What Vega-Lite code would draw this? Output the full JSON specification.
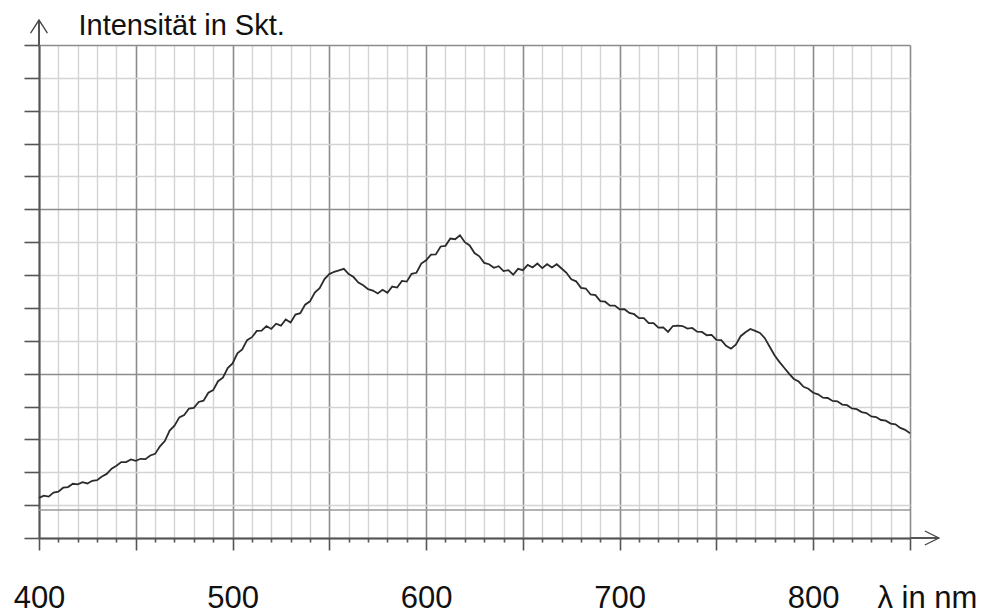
{
  "$schema": "https://vega.github.io/schema/vega-lite/v6.json",
  "width": 871,
  "height": 493,
  "autosize": {"type": "none"},
  "padding": {"left": 39, "top": 45, "right": 79, "bottom": 77},
  "background": "white",
  "config": {"view": {"stroke": null}},
  "layer": [
    {
      "data": {"values": [
        {"nm":400,"intensity":1.22},{"nm":402.5,"intensity":1.29},{"nm":405,"intensity":1.26},{"nm":407.5,"intensity":1.38},{"nm":410,"intensity":1.41},
        {"nm":412.5,"intensity":1.53},{"nm":415,"intensity":1.55},{"nm":417.5,"intensity":1.65},{"nm":420,"intensity":1.63},{"nm":422.5,"intensity":1.70},
        {"nm":425,"intensity":1.66},{"nm":427.5,"intensity":1.74},{"nm":430,"intensity":1.76},{"nm":432.5,"intensity":1.87},{"nm":435,"intensity":1.95},
        {"nm":437.5,"intensity":2.11},{"nm":440,"intensity":2.20},{"nm":442.5,"intensity":2.31},{"nm":445,"intensity":2.31},{"nm":447.5,"intensity":2.39},
        {"nm":450,"intensity":2.35},{"nm":452.5,"intensity":2.41},{"nm":455,"intensity":2.40},{"nm":457.5,"intensity":2.51},{"nm":460,"intensity":2.56},
        {"nm":462.5,"intensity":2.79},{"nm":465,"intensity":2.95},{"nm":467.5,"intensity":3.27},{"nm":470,"intensity":3.42},{"nm":472.5,"intensity":3.67},
        {"nm":475,"intensity":3.74},{"nm":477.5,"intensity":3.94},{"nm":480,"intensity":3.96},{"nm":482.5,"intensity":4.14},{"nm":485,"intensity":4.18},
        {"nm":487.5,"intensity":4.42},{"nm":490,"intensity":4.50},{"nm":492.5,"intensity":4.77},{"nm":495,"intensity":4.88},{"nm":497.5,"intensity":5.17},
        {"nm":500,"intensity":5.31},{"nm":502.5,"intensity":5.62},{"nm":505,"intensity":5.74},{"nm":507.5,"intensity":6.02},{"nm":510,"intensity":6.11},
        {"nm":512.5,"intensity":6.30},{"nm":515,"intensity":6.31},{"nm":517.5,"intensity":6.45},{"nm":520,"intensity":6.36},{"nm":522.5,"intensity":6.52},
        {"nm":525,"intensity":6.46},{"nm":527.5,"intensity":6.65},{"nm":530,"intensity":6.56},{"nm":532.5,"intensity":6.80},{"nm":535,"intensity":6.84},
        {"nm":537.5,"intensity":7.10},{"nm":540,"intensity":7.20},{"nm":542.5,"intensity":7.47},{"nm":545,"intensity":7.60},{"nm":547.5,"intensity":7.88},
        {"nm":550,"intensity":8.03},{"nm":552.5,"intensity":8.10},{"nm":555,"intensity":8.14},{"nm":557.5,"intensity":8.19},{"nm":560,"intensity":8.03},
        {"nm":562.5,"intensity":7.94},{"nm":565,"intensity":7.77},{"nm":567.5,"intensity":7.69},{"nm":570,"intensity":7.57},{"nm":572.5,"intensity":7.53},
        {"nm":575,"intensity":7.44},{"nm":577.5,"intensity":7.55},{"nm":580,"intensity":7.46},{"nm":582.5,"intensity":7.65},{"nm":585,"intensity":7.62},
        {"nm":587.5,"intensity":7.82},{"nm":590,"intensity":7.80},{"nm":592.5,"intensity":8.04},{"nm":595,"intensity":8.07},{"nm":597.5,"intensity":8.35},
        {"nm":600,"intensity":8.45},{"nm":602.5,"intensity":8.62},{"nm":605,"intensity":8.63},{"nm":607.5,"intensity":8.87},{"nm":610,"intensity":8.89},
        {"nm":612.5,"intensity":9.11},{"nm":615,"intensity":9.09},{"nm":617.5,"intensity":9.21},{"nm":620,"intensity":9.00},{"nm":622.5,"intensity":8.90},
        {"nm":625,"intensity":8.67},{"nm":627.5,"intensity":8.57},{"nm":630,"intensity":8.37},{"nm":632.5,"intensity":8.33},{"nm":635,"intensity":8.22},
        {"nm":637.5,"intensity":8.27},{"nm":640,"intensity":8.12},{"nm":642.5,"intensity":8.15},{"nm":645,"intensity":8.01},{"nm":647.5,"intensity":8.19},
        {"nm":650,"intensity":8.15},{"nm":652.5,"intensity":8.31},{"nm":655,"intensity":8.23},{"nm":657.5,"intensity":8.35},{"nm":660,"intensity":8.21},
        {"nm":662.5,"intensity":8.33},{"nm":665,"intensity":8.23},{"nm":667.5,"intensity":8.33},{"nm":670,"intensity":8.20},{"nm":672.5,"intensity":8.07},
        {"nm":675,"intensity":7.87},{"nm":677.5,"intensity":7.81},{"nm":680,"intensity":7.61},{"nm":682.5,"intensity":7.59},{"nm":685,"intensity":7.41},
        {"nm":687.5,"intensity":7.39},{"nm":690,"intensity":7.21},{"nm":692.5,"intensity":7.19},{"nm":695,"intensity":7.07},{"nm":697.5,"intensity":7.07},
        {"nm":700,"intensity":6.96},{"nm":702.5,"intensity":6.96},{"nm":705,"intensity":6.85},{"nm":707.5,"intensity":6.81},{"nm":710,"intensity":6.69},
        {"nm":712.5,"intensity":6.69},{"nm":715,"intensity":6.54},{"nm":717.5,"intensity":6.54},{"nm":720,"intensity":6.40},{"nm":722.5,"intensity":6.41},
        {"nm":725,"intensity":6.27},{"nm":727.5,"intensity":6.45},{"nm":730,"intensity":6.46},{"nm":732.5,"intensity":6.45},{"nm":735,"intensity":6.37},
        {"nm":737.5,"intensity":6.39},{"nm":740,"intensity":6.28},{"nm":742.5,"intensity":6.27},{"nm":745,"intensity":6.17},{"nm":747.5,"intensity":6.18},
        {"nm":750,"intensity":6.03},{"nm":752.5,"intensity":6.02},{"nm":755,"intensity":5.85},{"nm":757.5,"intensity":5.76},{"nm":760,"intensity":5.88},
        {"nm":762.5,"intensity":6.14},{"nm":765,"intensity":6.26},{"nm":767.5,"intensity":6.36},{"nm":770,"intensity":6.30},{"nm":772.5,"intensity":6.24},
        {"nm":775,"intensity":6.08},{"nm":777.5,"intensity":5.82},{"nm":780,"intensity":5.56},{"nm":782.5,"intensity":5.36},{"nm":785,"intensity":5.18},
        {"nm":787.5,"intensity":5.00},{"nm":790,"intensity":4.84},{"nm":792.5,"intensity":4.76},{"nm":795,"intensity":4.60},{"nm":797.5,"intensity":4.54},
        {"nm":800,"intensity":4.42},{"nm":802.5,"intensity":4.37},{"nm":805,"intensity":4.27},{"nm":807.5,"intensity":4.26},{"nm":810,"intensity":4.17},
        {"nm":812.5,"intensity":4.16},{"nm":815,"intensity":4.06},{"nm":817.5,"intensity":4.04},{"nm":820,"intensity":3.94},{"nm":822.5,"intensity":3.92},
        {"nm":825,"intensity":3.83},{"nm":827.5,"intensity":3.80},{"nm":830,"intensity":3.70},{"nm":832.5,"intensity":3.68},{"nm":835,"intensity":3.59},
        {"nm":837.5,"intensity":3.57},{"nm":840,"intensity":3.48},{"nm":842.5,"intensity":3.46},{"nm":845,"intensity":3.35},{"nm":847.5,"intensity":3.29},
        {"nm":850,"intensity":3.19}
      ]},
      "mark": {"type": "line", "color": "#2b2b2b", "strokeWidth": 1.8},
      "encoding": {
        "x": {
          "field": "nm", "type": "quantitative",
          "scale": {"domain": [400, 850], "nice": false, "zero": false},
          "axis": {
            "values": [400,410,420,430,440,450,460,470,480,490,500,510,520,530,540,550,560,570,580,590,600,610,620,630,640,650,660,670,680,690,700,710,720,730,740,750,760,770,780,790,800,810,820,830,840,850],
            "tickCount": 100,
            "grid": true,
            "gridColor": {"condition": {"test": "datum.value % 50 === 0", "value": "#8c8c8c"}, "value": "#d4d4d4"},
            "gridWidth": {"condition": {"test": "datum.value % 50 === 0", "value": 1.6}, "value": 1.4},
            "domainColor": "#555555", "domainWidth": 2,
            "tickColor": "#555555", "tickWidth": 1.6,
            "tickSize": {"condition": {"test": "datum.value % 50 === 0", "value": 12}, "value": 4},
            "labelExpr": "datum.value % 100 === 0 ? datum.label : ''",
            "labelFont": "Liberation Sans", "labelFontSize": 31, "labelColor": "#111111",
            "labelBaseline": "alphabetic", "labelPadding": 57,
            "labelFlush": false, "labelOverlap": false,
            "title": "λ in nm",
            "titleFont": "Liberation Sans", "titleFontSize": 31, "titleFontWeight": "normal", "titleColor": "#111111",
            "titleAlign": "left", "titleBaseline": "alphabetic", "titleX": 838, "titleY": 69
          }
        },
        "y": {
          "field": "intensity", "type": "quantitative",
          "scale": {"domain": [0, 15], "nice": false, "zero": true},
          "axis": {
            "values": [0,1,2,3,4,5,6,7,8,9,10,11,12,13,14,15],
            "tickCount": 100,
            "grid": true,
            "gridColor": {"condition": {"test": "datum.value % 5 === 0", "value": "#8c8c8c"}, "value": "#d4d4d4"},
            "gridWidth": {"condition": {"test": "datum.value % 5 === 0", "value": 1.6}, "value": 1.4},
            "domainColor": "#555555", "domainWidth": 2,
            "tickColor": "#555555", "tickWidth": 1.6, "tickSize": 15,
            "labels": false,
            "title": "Intensität  in Skt.",
            "titleFont": "Liberation Sans", "titleFontSize": 29, "titleFontWeight": "normal", "titleColor": "#111111",
            "titleAngle": 0, "titleAlign": "left", "titleBaseline": "alphabetic", "titleX": 39, "titleY": -11
          }
        }
      }
    },
    {
      "data": {"values": [{}]},
      "mark": {"type": "rule", "color": "#9a9a9a", "strokeWidth": 1.5},
      "encoding": {"y": {"datum": 0.85, "type": "quantitative"}}
    },
    {
      "data": {"values": [{}]},
      "mark": {"type": "rule", "color": "#555555", "strokeWidth": 2},
      "encoding": {
        "x": {"datum": 850, "type": "quantitative"},
        "x2": {"datum": 864.9},
        "y": {"datum": 0, "type": "quantitative"}
      }
    },
    {
      "data": {"values": [{}]},
      "mark": {"type": "rule", "color": "#555555", "strokeWidth": 2},
      "encoding": {
        "x": {"datum": 400, "type": "quantitative"},
        "y": {"datum": 15, "type": "quantitative"},
        "y2": {"datum": 15.76}
      }
    },
    {
      "data": {"values": [{}]},
      "mark": {"type": "point", "shape": "M-1,-0.5L0,0L-1,0.5", "size": 784, "filled": false, "stroke": "#444444", "strokeWidth": 1.3, "opacity": 1},
      "encoding": {
        "x": {"datum": 864.9, "type": "quantitative"},
        "y": {"datum": 0, "type": "quantitative"}
      }
    },
    {
      "data": {"values": [{}]},
      "mark": {"type": "point", "shape": "M-0.65,1L0,0L0.65,1", "size": 676, "filled": false, "stroke": "#444444", "strokeWidth": 1.3, "opacity": 1},
      "encoding": {
        "x": {"datum": 400, "type": "quantitative"},
        "y": {"datum": 15.76, "type": "quantitative"}
      }
    }
  ]
}
